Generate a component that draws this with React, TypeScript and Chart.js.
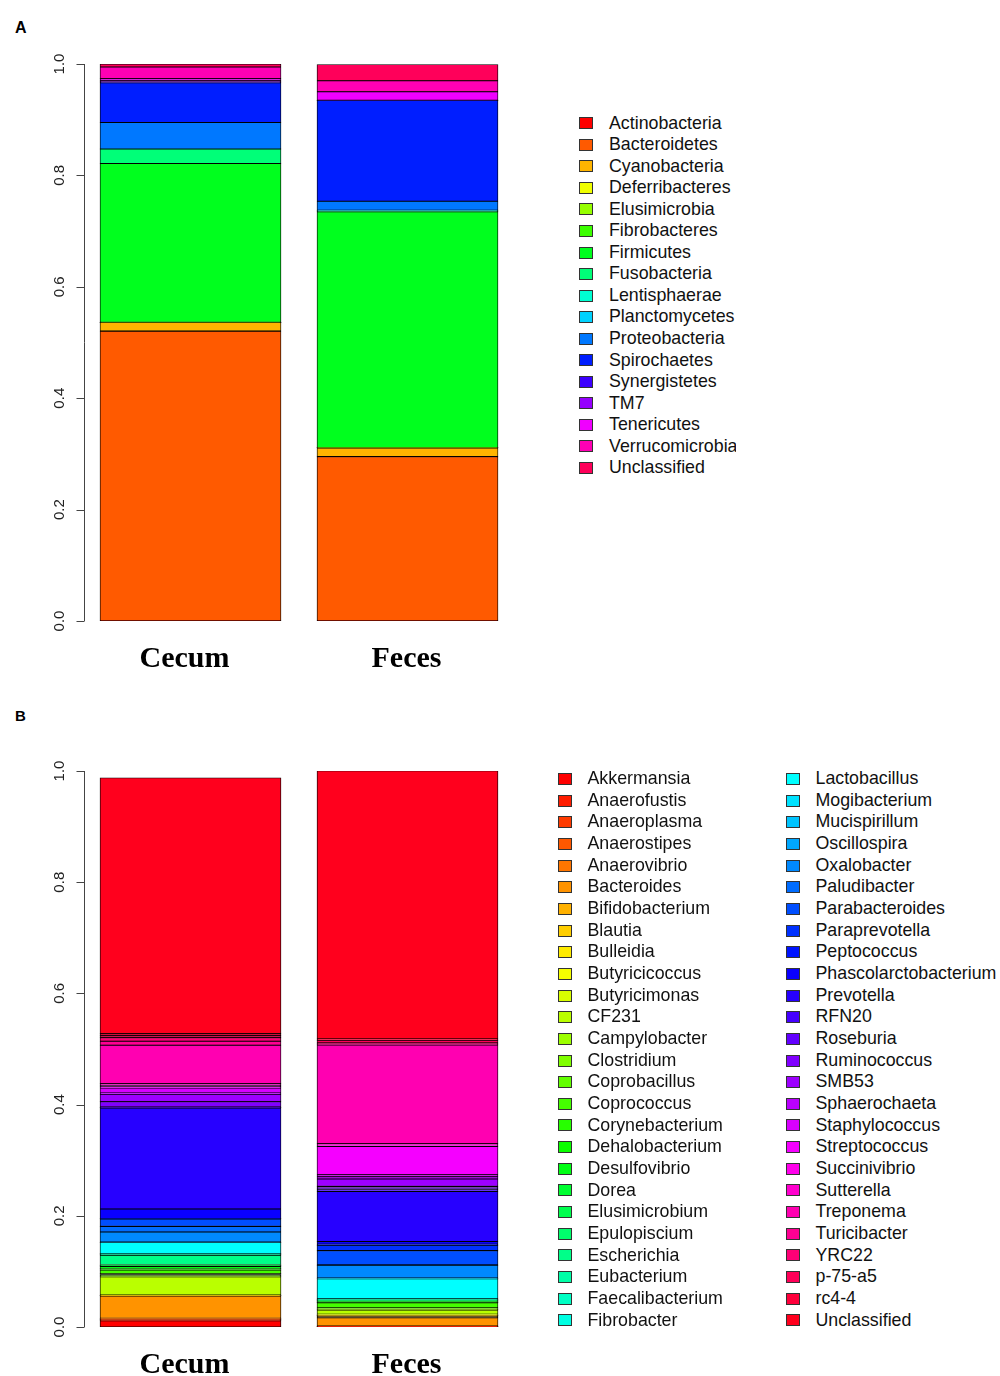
import React, { useEffect, useRef } from 'react';
import { Chart, registerables } from 'chart.js';

Chart.register(...registerables);

// ---------- data ----------
const samples = ['Cecum', 'Feces'];
const yTicks = [0, 0.2, 0.4, 0.6, 0.8, 1.0];
const yTickLabels = ['0.0', '0.2', '0.4', '0.6', '0.8', '1.0'];

const phyla = [
  'Actinobacteria', 'Bacteroidetes', 'Cyanobacteria', 'Deferribacteres', 'Elusimicrobia',
  'Fibrobacteres', 'Firmicutes', 'Fusobacteria', 'Lentisphaerae', 'Planctomycetes',
  'Proteobacteria', 'Spirochaetes', 'Synergistetes', 'TM7', 'Tenericutes',
  'Verrucomicrobia', 'Unclassified',
];
const phylaCecum = [
  0.0004, 0.52, 0.0154, 0.0002, 0.0001,
  0.0001, 0.2853, 0.0258, 0.0001, 0.0001,
  0.0476, 0.0713, 0.0018, 0.0018, 0.0036,
  0.021, 0.0054,
];
const phylaFeces = [
  0.0003, 0.2948, 0.0156, 0.0003, 0.0002,
  0.0002, 0.4232, 0.0012, 0.0008, 0.0008,
  0.0162, 0.1807, 0.0003, 0.0003, 0.0151,
  0.0198, 0.0293,
];

const genera = [
  'Akkermansia', 'Anaerofustis', 'Anaeroplasma', 'Anaerostipes', 'Anaerovibrio',
  'Bacteroides', 'Bifidobacterium', 'Blautia', 'Bulleidia', 'Butyricicoccus',
  'Butyricimonas', 'CF231', 'Campylobacter', 'Clostridium', 'Coprobacillus',
  'Coprococcus', 'Corynebacterium', 'Dehalobacterium', 'Desulfovibrio', 'Dorea',
  'Elusimicrobium', 'Epulopiscium', 'Escherichia', 'Eubacterium', 'Faecalibacterium',
  'Fibrobacter', 'Lactobacillus', 'Mogibacterium', 'Mucispirillum', 'Oscillospira',
  'Oxalobacter', 'Paludibacter', 'Parabacteroides', 'Paraprevotella', 'Peptococcus',
  'Phascolarctobacterium', 'Prevotella', 'RFN20', 'Roseburia', 'Ruminococcus',
  'SMB53', 'Sphaerochaeta', 'Staphylococcus', 'Streptococcus', 'Succinivibrio',
  'Sutterella', 'Treponema', 'Turicibacter', 'YRC22', 'p-75-a5',
  'rc4-4', 'Unclassified',
];
const generaCecum = [
  0.0113, 0.001, 0.001, 0.001, 0.0013,
  0.0401, 0.0004, 0.0003, 0.0002, 0.0003,
  0.0006, 0.0329, 0.0015, 0.0025, 0.002,
  0.006, 0.001, 0.002, 0.0035, 0.001,
  0.001, 0.0015, 0.0167, 0.001, 0.0015,
  0.0005, 0.0198, 0.0002, 0.0003, 0.0005,
  0.018, 0.0101, 0.0133, 0.0003, 0.0003,
  0.0174, 0.1817, 0.0005, 0.001, 0.0098,
  0.0133, 0.0023, 0.009, 0.002, 0.003,
  0.0027, 0.0693, 0.0072, 0.0063, 0.0036,
  0.0036, 0.4601,
];
const generaFeces = [
  0.0005, 0.0003, 0.0003, 0.0003, 0.0003,
  0.0148, 0.003, 0.001, 0.0005, 0.0015,
  0.0005, 0.0077, 0.0013, 0.0013, 0.0014,
  0.009, 0.0007, 0.0007, 0.0007, 0.0007,
  0.0007, 0.0007, 0.0007, 0.0007, 0.0007,
  0.0007, 0.036, 0.0005, 0.0005, 0.0005,
  0.0227, 0.001, 0.0255, 0.0095, 0.002,
  0.005, 0.09, 0.003, 0.003, 0.003,
  0.0133, 0.004, 0.0037, 0.051, 0.0024,
  0.0024, 0.1776, 0.002, 0.0016, 0.0047,
  0.0025, 0.4823,
];

// ---------- styles ----------
function hsvHex(h: number): string {
  const h6 = h * 6;
  const k = Math.floor(h6);
  const f = h6 - k;
  let r = 0, g = 0, b = 0;
  switch (k % 6) {
    case 0: r = 1; g = f; b = 0; break;
    case 1: r = 1 - f; g = 1; b = 0; break;
    case 2: r = 0; g = 1; b = f; break;
    case 3: r = 0; g = 1 - f; b = 1; break;
    case 4: r = f; g = 0; b = 1; break;
    default: r = 1; g = 0; b = 1 - f;
  }
  const hx = (v: number) => Math.round(v * 255).toString(16).padStart(2, '0');
  return '#' + hx(r) + hx(g) + hx(b);
}
function rainbow(n: number): string[] {
  return Array.from({ length: n }, (_, i) => hsvHex(i / n));
}

const phylaColors = rainbow(phyla.length);
const generaColors = rainbow(genera.length);

const BAR_W = 181;
const LABEL_SHIFT = [-6, -1];
const SANS = '"Liberation Sans", Arial, Helvetica, sans-serif';
const SERIF = '"Liberation Serif", "Times New Roman", Times, serif';

const axisPlugin = {
  id: 'rStyleAxis',
  afterDraw(chart: any) {
    const { ctx } = chart;
    const x = chart.scales.x;
    const y = chart.scales.y;
    const ax = Math.round(x.getPixelForValue(0) - BAR_W / 2 - 16) + 0.5;
    const y0 = y.getPixelForValue(0);
    const y1 = y.getPixelForValue(1);
    ctx.save();
    ctx.strokeStyle = '#444';
    ctx.lineWidth = 1;
    ctx.beginPath();
    ctx.moveTo(ax, y0);
    ctx.lineTo(ax, y1);
    yTicks.forEach((v) => {
      const py = Math.round(y.getPixelForValue(v)) + 0.5;
      ctx.moveTo(ax, py);
      ctx.lineTo(ax - 8, py);
    });
    ctx.stroke();

    ctx.fillStyle = '#222';
    ctx.font = '15px ' + SANS;
    ctx.textAlign = 'center';
    ctx.textBaseline = 'alphabetic';
    yTicks.forEach((v, i) => {
      ctx.save();
      ctx.translate(ax - 21, y.getPixelForValue(v));
      ctx.rotate(-Math.PI / 2);
      ctx.fillText(yTickLabels[i], 0, 0);
      ctx.restore();
    });

    ctx.fillStyle = '#000';
    ctx.font = 'bold 30px ' + SERIF;
    ctx.textAlign = 'center';
    samples.forEach((s, i) => {
      ctx.fillText(s, x.getPixelForValue(i) + LABEL_SHIFT[i], y0 + 45.5);
    });
    ctx.restore();
  },
};

type PanelProps = {
  names: string[];
  cecum: number[];
  feces: number[];
  colors: string[];
  top: number;
  height: number;
  padTop: number;
  padBottom: number;
};

function StackedPanel({ names, cecum, feces, colors, top, height, padTop, padBottom }: PanelProps) {
  const ref = useRef<HTMLCanvasElement>(null);
  useEffect(() => {
    if (!ref.current) return;
    const chart = new Chart(ref.current, {
      type: 'bar',
      data: {
        labels: samples,
        datasets: names.map((n, i) => ({
          label: n,
          data: [cecum[i], feces[i]],
          backgroundColor: colors[i],
          borderColor: '#000',
          borderWidth: 0.85,
          borderSkipped: false,
          barThickness: BAR_W,
        })),
      },
      options: {
        responsive: false,
        animation: false,
        layout: { padding: { left: 82, right: 44, top: padTop, bottom: padBottom } },
        plugins: { legend: { display: false }, tooltip: { enabled: false } },
        scales: {
          x: { display: false, stacked: true },
          y: { display: false, stacked: true, min: 0, max: 1 },
        },
      },
      plugins: [axisPlugin],
    } as any);
    return () => chart.destroy();
  }, []);
  return (
    <canvas
      ref={ref}
      width={560}
      height={height}
      style={{ position: 'absolute', left: 0, top, width: 560, height }}
    />
  );
}

type LegendProps = {
  names: string[];
  colors: string[];
  boxLeft: number;
  textLeft: number;
  firstCenter: number;
  step: number;
  clipRight?: number;
};

function LegendColumn({ names, colors, boxLeft, textLeft, firstCenter, step, clipRight }: LegendProps) {
  const fs = 17.8;
  return (
    <div
      style={{
        position: 'absolute',
        left: boxLeft,
        top: firstCenter - step / 2,
        width: clipRight ? clipRight - boxLeft : undefined,
        overflow: clipRight ? 'hidden' : 'visible',
        whiteSpace: 'nowrap',
      }}
    >
      {names.map((n, i) => (
        <div key={n + i} style={{ position: 'relative', height: step, lineHeight: step + 'px' }}>
          <span
            style={{
              position: 'absolute',
              left: 0,
              top: (step - 12) / 2,
              width: 14,
              height: 12,
              boxSizing: 'border-box',
              border: '1px solid #333',
              background: colors[i],
            }}
          />
          <span
            style={{
              position: 'absolute',
              left: textLeft - boxLeft,
              top: 0,
              fontFamily: SANS,
              fontSize: fs,
              color: '#111',
            }}
          >
            {n}
          </span>
        </div>
      ))}
    </div>
  );
}

export default function App() {
  useEffect(() => {
    document.body.style.margin = '0';
    document.body.style.background = '#fff';
  }, []);
  const half = genera.length / 2;
  return (
    <div style={{ position: 'relative', width: 1000, height: 1376, background: '#fff', overflow: 'hidden' }}>
      <div style={{ position: 'absolute', left: 15, top: 20, fontFamily: SANS, fontWeight: 'bold', fontSize: 16, lineHeight: '16px' }}>A</div>
      <div style={{ position: 'absolute', left: 15, top: 708, fontFamily: SANS, fontWeight: 'bold', fontSize: 15, lineHeight: '15px' }}>B</div>

      <StackedPanel
        names={phyla}
        cecum={phylaCecum}
        feces={phylaFeces}
        colors={phylaColors}
        top={0}
        height={690}
        padTop={64}
        padBottom={69}
      />
      <LegendColumn
        names={phyla}
        colors={phylaColors}
        boxLeft={579}
        textLeft={609}
        firstCenter={123.3}
        step={21.56}
        clipRight={736}
      />

      <StackedPanel
        names={genera}
        cecum={generaCecum}
        feces={generaFeces}
        colors={generaColors}
        top={690}
        height={686}
        padTop={81}
        padBottom={49}
      />
      <LegendColumn
        names={genera.slice(0, half)}
        colors={generaColors.slice(0, half)}
        boxLeft={557.5}
        textLeft={587.5}
        firstCenter={779}
        step={21.67}
      />
      <LegendColumn
        names={genera.slice(half)}
        colors={generaColors.slice(half)}
        boxLeft={786}
        textLeft={815.5}
        firstCenter={779}
        step={21.67}
      />
    </div>
  );
}
